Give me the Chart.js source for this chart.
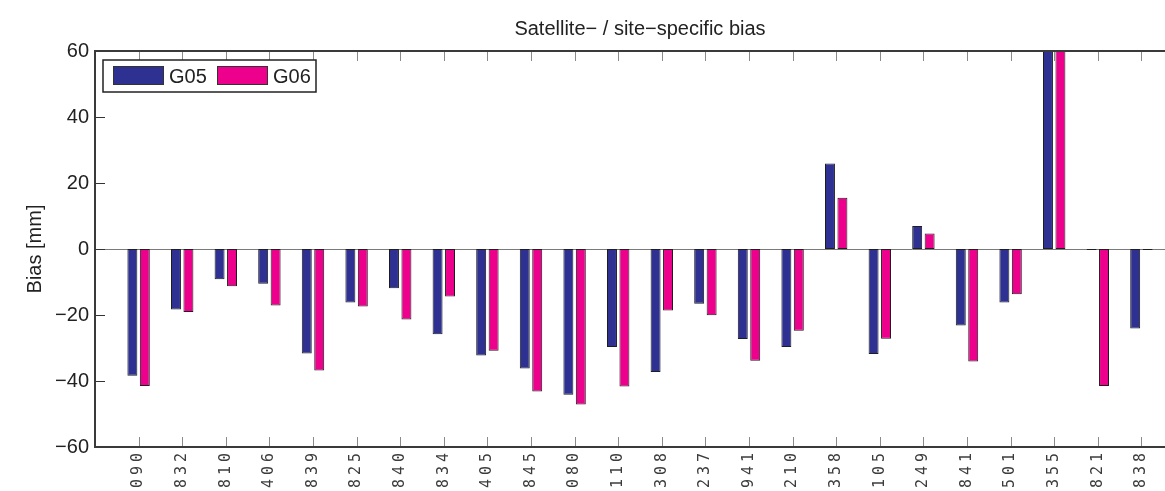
<!DOCTYPE html>
<html>
<head>
<meta charset="utf-8">
<script src="https://cdn.jsdelivr.net/npm/chart.js@4/dist/chart.umd.min.js"></script>
<style>
  html, body { margin: 0; padding: 0; background: #fff; overflow: hidden; }
  #wrap { position: absolute; left: 0; top: 0; width: 1200px; height: 507px; }
</style>
</head>
<body>
<div id="wrap"><canvas id="c" width="1200" height="507"></canvas></div>
<script>
// SLR station codes along the x axis
const sites = ['7090','7832','7810','7406','7839','7825','7840','8834','7405','7845','7080','7110',
               '7308','7237','7941','7210','7358','7105','7249','7841','7501','7355','7821','7838'];
// Bias per station [mm]
const g05 = [-38.4,-18.3,-9.2,-10.5,-31.7,-16.2,-11.9,-25.8,-32.3,-36.2,-44.2,-29.7,
             -37.3,-16.6,-27.3,-29.7,25.9,-31.8,7.0,-23.2,-16.2,68,-0.3,-24.1];
const g06 = [-41.5,-19.1,-11.3,-17.1,-36.8,-17.4,-21.4,-14.4,-30.8,-43.2,-47.1,-41.7,
             -18.6,-20.1,-33.9,-24.8,15.5,-27.2,4.7,-34.1,-13.7,66,-41.5,-0.3];
const seriesNames = ['G05', 'G06'];
const seriesColors = ['#2E3192', '#EC008C'];
const yRange = [-60, 60];
const yStep = 20;

// empty slots at both ends give the axis a full category of margin
const labels = ['', ...sites, ''];
const pad = arr => [null, ...arr, null];

const SANS = 'Liberation Sans, Arial, Helvetica, sans-serif';
const toMinus = s => String(s).replace('-', '\u2212');

// wider letter spacing for the rotated station codes
const spacedTicks = {
  id: 'spacedTicks',
  beforeDraw(chart) {
    const s = chart.scales.x;
    if (s && !s._spaced) {
      const orig = s.drawLabels.bind(s);
      s.drawLabels = function (area) {
        const ctx = this.ctx;
        ctx.save();
        ctx.letterSpacing = '4px';
        orig(area);
        ctx.restore();
      };
      s._spaced = true;
    }
  }
};

// zero baseline under the bars
const baseline = {
  id: 'baseline',
  beforeDatasetsDraw(chart) {
    const { ctx, chartArea: ca, scales: { y } } = chart;
    const y0 = Math.round(y.getPixelForValue(0)) + 0.5;
    ctx.save();
    ctx.strokeStyle = '#7a7a7a';
    ctx.lineWidth = 1;
    ctx.beginPath();
    ctx.moveTo(ca.left, y0);
    ctx.lineTo(ca.right, y0);
    ctx.stroke();
    ctx.restore();
  }
};

// box frame with inward tick marks
const frame = {
  id: 'frame',
  afterDatasetsDraw(chart) {
    const { ctx, chartArea: ca, scales: { x, y } } = chart;
    const tl = 10;
    ctx.save();
    // x ticks, top and bottom
    ctx.strokeStyle = '#8a8a8a';
    ctx.lineWidth = 1;
    ctx.beginPath();
    for (let i = 1; i <= sites.length; i++) {
      const px = Math.round(x.getPixelForTick(i)) + 0.5;
      ctx.moveTo(px, ca.top); ctx.lineTo(px, ca.top + tl);
      ctx.moveTo(px, ca.bottom); ctx.lineTo(px, ca.bottom - tl);
    }
    ctx.stroke();
    // y ticks, left and right
    ctx.strokeStyle = '#333';
    ctx.lineWidth = 1.2;
    ctx.beginPath();
    y.ticks.forEach(t => {
      const py = Math.round(y.getPixelForValue(t.value)) + 0.5;
      ctx.moveTo(ca.left, py); ctx.lineTo(ca.left + tl, py);
      ctx.moveTo(ca.right, py); ctx.lineTo(ca.right - tl, py);
    });
    ctx.stroke();
    // outline
    ctx.strokeStyle = '#3a3a3a';
    ctx.lineWidth = 2;
    ctx.strokeRect(ca.left, ca.top, ca.right - ca.left, ca.bottom - ca.top);
    ctx.restore();
  }
};

// boxed legend in the upper-left corner of the plot
const boxLegend = {
  id: 'boxLegend',
  afterDraw(chart) {
    const { ctx, chartArea: ca } = chart;
    const x0 = ca.left + 8, y0 = ca.top + 9, w = 213, h = 32;
    ctx.save();
    ctx.fillStyle = '#fff';
    ctx.fillRect(x0, y0, w, h);
    ctx.strokeStyle = '#222';
    ctx.lineWidth = 1.5;
    ctx.strokeRect(x0, y0, w, h);
    ctx.font = '20px ' + SANS;
    ctx.textBaseline = 'middle';
    ctx.textAlign = 'left';
    chart.data.datasets.forEach((ds, i) => {
      const sx = x0 + 10 + i * 104, sy = y0 + 6;
      ctx.fillStyle = ds.backgroundColor;
      ctx.fillRect(sx, sy, 51, 19);
      ctx.strokeStyle = '#333';
      ctx.lineWidth = 1;
      ctx.strokeRect(sx + 0.5, sy + 0.5, 50, 18);
      ctx.fillStyle = '#222';
      ctx.fillText(ds.label, sx + 56, y0 + h / 2 + 1);
    });
    ctx.restore();
  }
};

const makeSet = (name, color, values) => ({
  label: name,
  data: pad(values),
  backgroundColor: color,
  borderColor: '#1e1e1e',
  borderWidth: 1,
  borderSkipped: false,
  categoryPercentage: 0.571,
  barPercentage: 0.8
});

new Chart(document.getElementById('c'), {
  type: 'bar',
  data: {
    labels: labels,
    datasets: [
      makeSet(seriesNames[0], seriesColors[0], g05),
      makeSet(seriesNames[1], seriesColors[1], g06)
    ]
  },
  options: {
    responsive: false,
    animation: false,
    devicePixelRatio: 1,
    layout: { padding: { left: 0, right: 15, top: 0, bottom: 0 } },
    plugins: {
      legend: { display: false },
      tooltip: { enabled: false },
      title: {
        display: true,
        text: 'Satellite\u2212 / site\u2212specific bias',
        fullSize: false,
        color: '#222',
        font: { family: SANS, size: 20, weight: 'normal' },
        padding: { top: 17, bottom: 10 }
      }
    },
    scales: {
      x: {
        type: 'category',
        offset: false,
        grid: { display: false, drawTicks: false },
        border: { display: false },
        ticks: {
          autoSkip: false,
          minRotation: 90,
          maxRotation: 90,
          padding: 2,
          color: '#3c3c3c',
          font: { family: 'DejaVu Sans Mono, monospace', size: 15 }
        },
        afterFit(s) { s.height = 60; s.paddingLeft = 0; s.paddingRight = 0; }
      },
      y: {
        min: yRange[0],
        max: yRange[1],
        grid: { display: false, drawTicks: false },
        border: { display: false },
        ticks: {
          stepSize: yStep,
          padding: 6,
          color: '#222',
          font: { family: SANS, size: 20 },
          callback: v => toMinus(v)
        },
        title: {
          display: true,
          text: 'Bias [mm]',
          color: '#222',
          font: { family: SANS, size: 20 },
          padding: { top: 23, bottom: 0 }
        },
        afterFit(s) { s.width = 95; s.paddingTop = 0; s.paddingBottom = 0; }
      }
    }
  },
  plugins: [spacedTicks, baseline, frame, boxLegend]
});
</script>
</body>
</html>
